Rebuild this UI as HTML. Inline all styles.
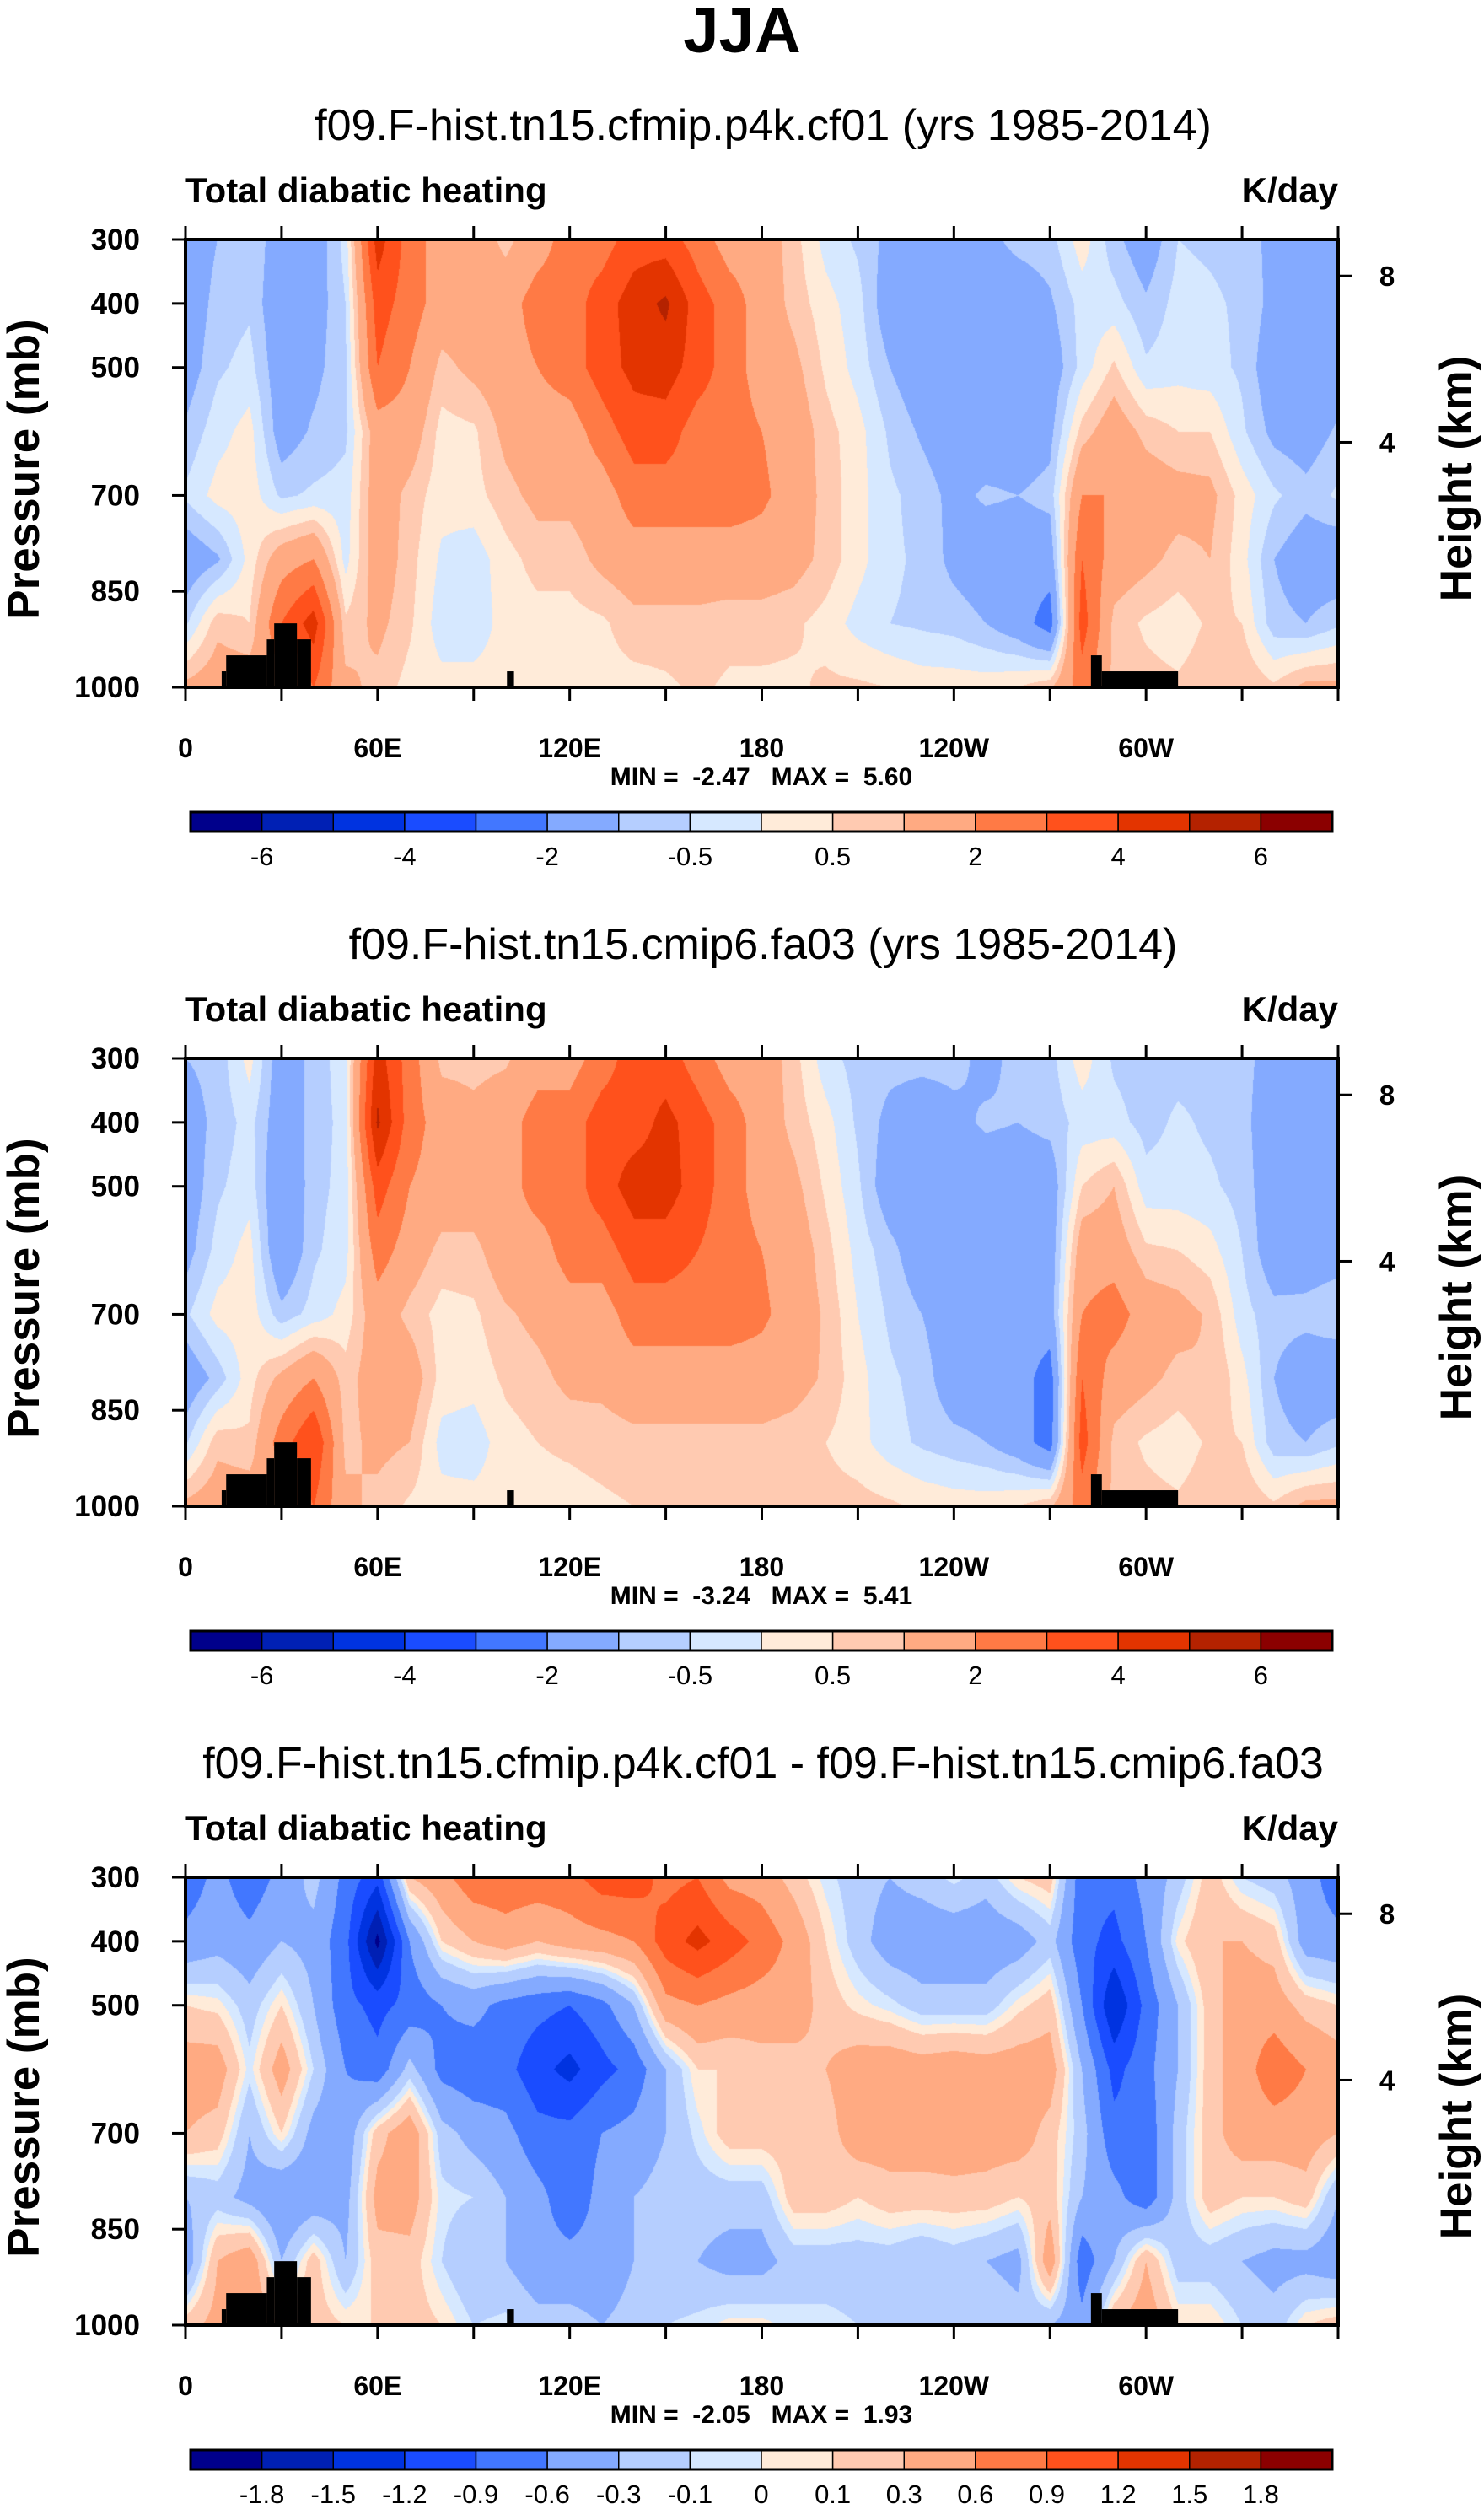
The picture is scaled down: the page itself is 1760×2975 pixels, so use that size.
<!DOCTYPE html>
<html><head><meta charset="utf-8">
<style>
html,body{margin:0;padding:0;background:#fff;}
#wrap{position:relative;width:1760px;height:2975px;overflow:hidden;font-family:"Liberation Sans",sans-serif;}
canvas{position:absolute;}
svg{position:absolute;left:0;top:0;}
text{white-space:pre;}
</style></head>
<body>
<div id="wrap">
<canvas id="c1" width="1367" height="531" style="left:220px;top:284px"></canvas>
<canvas id="c2" width="1367" height="531" style="left:220px;top:1255px"></canvas>
<canvas id="c3" width="1367" height="531" style="left:220px;top:2226px"></canvas>
<svg id="ov" width="1760" height="2975"></svg>
</div>
<script>
// ---- data ----
const lonGrid = [0,10,20,30,40,50,60,70,80,90,100,110,120,130,140,150,160,170,180,190,200,210,220,230,240,250,260,270,280,290,300,310,320,330,340,350,360];
const presLevels = [300,400,500,600,700,800,900,1000];
const heat1 = [
[-1.5,-1.5,-1.4,-0.9,-0.4,-1.6,-0.6,1.2],[-1.0,-0.8,-0.6,-0.2,0.2,-1.1,0.8,1.5],[-0.5,-0.6,-0.3,0.2,0.3,0.2,0.5,1.5],
[-1.5,-1.6,-1.5,-1.4,-0.6,1.5,3,1.5],[-1.5,-1.4,-1.2,-0.9,-0.4,2,4.5,3],[-0.3,-0.5,-0.6,-0.6,-0.3,-0.2,0.6,1.2],
[4.5,3.5,3,1.5,1.5,1.5,1.2,0.8],[2.5,2.5,2,1.5,0.8,0.7,0.6,0.3],[1.5,1.5,0.8,0.3,0.2,-0.1,-0.3,0.2],
[1.5,1.5,1.2,0.4,0.3,-0.3,-0.3,0.2],[0.8,1.5,1.5,1.2,0.8,0.3,0.2,0.2],[1.5,2.5,2,1.5,1.2,0.7,0.3,0.3],
[2.5,2.5,2.5,1.5,1.2,0.7,0.3,0.3],[2.5,3.5,3.5,2.5,1.5,1.2,0.4,0.3],[3.5,4.5,4.3,3.5,2.5,1.5,0.8,0.3],
[3.5,5.2,4.5,3.5,2.5,1.5,0.8,0.4],[2.5,3.5,3.5,2.5,2.5,1.5,0.8,0.6],[1.5,2.5,2.5,2.5,2.5,1.5,0.7,0.4],
[1.5,1.5,1.5,2,2.2,1.5,0.7,0.4],[0.7,0.8,1.2,1.5,1.5,1.3,0.6,0.4],[-0.2,0.2,0.4,0.7,0.8,0.8,0.3,0.6],
[-0.6,-0.3,-0.2,0.2,0.2,0.2,-0.2,0.6],[-1.2,-1.5,-1.0,-0.6,-0.4,-0.4,-0.5,0.5],[-1.5,-1.5,-1.5,-1.1,-0.7,-0.6,-0.6,0.3],
[-1.5,-1.5,-1.5,-1.5,-1.2,-1.2,-0.7,0.3],[-1.2,-1.5,-1.5,-1.5,-0.9,-1.5,-1.0,0.3],[-0.8,-1.5,-1.5,-1.5,-1.0,-1.5,-1.5,0.5],
[-0.7,-1.1,-1.5,-1.2,-0.8,-1.5,-2.5,0.9],[0.3,-0.3,-0.3,0.7,2,3,3.5,2.5],[-0.8,-0.3,0.6,1.5,2,1.5,0.8,0.8],
[-1.5,-0.9,-0.4,0.8,1.5,1.2,0.4,0.7],[-0.5,-0.3,-0.2,0.5,1.3,0.8,0.2,0.6],[-0.6,-0.4,-0.3,0.5,1.2,1.0,0.6,0.8],
[-0.7,-0.6,-0.6,-0.4,0.3,0.2,0.5,1.0],[-1.2,-1.2,-1.5,-1.2,-0.4,-1.0,-0.8,0.6],[-1.5,-1.5,-1.5,-1.4,-0.8,-1.5,-1.0,1.2],
[-1.5,-1.5,-1.4,-0.9,-0.4,-1.6,-0.6,1.2]];
const heat2 = [
[-1.0,-1.4,-1.5,-1.3,-0.6,-1.6,-0.6,1.2],[-0.8,-0.8,-0.6,-0.3,0.2,-0.8,0.8,1.5],[0.2,-0.3,-0.2,0.2,0.3,0.3,0.6,1.5],
[-1.5,-1.5,-1.8,-1.8,-0.8,1.2,2.5,1.5],[-0.8,-0.8,-0.7,-0.6,-0.3,2,4,3],[-0.2,-0.3,-0.3,-0.2,0.2,0.7,0.8,1.2],
[4.5,5.2,3.5,2.5,1.5,1.5,1.2,0.8],[2.5,2.5,2,1.5,0.8,1.5,1.0,0.4],[0.8,1.5,1.5,0.8,0.3,0.3,-0.2,0.2],
[0.8,1.2,1.5,0.8,0.4,0.2,-0.3,0.2],[0.9,1.5,1.5,1.5,0.9,0.6,0.3,0.2],[1.5,2.5,2.5,1.5,1.2,0.8,0.5,0.3],
[1.5,2.5,2.5,2.5,1.5,1.2,0.6,0.3],[2.5,3.5,3.5,2.5,1.5,1.2,0.7,0.4],[3.5,3.5,4.5,3.5,2.5,1.5,0.8,0.5],
[3.5,4.3,4.5,3.5,2.5,1.5,0.8,0.5],[2.5,3.5,3.5,3.0,2.5,1.5,0.8,0.6],[1.5,2.5,2.5,2.5,2.5,1.5,0.8,0.6],
[1.5,1.5,1.5,2,2.2,1.5,0.8,0.6],[0.7,0.8,1.2,1.5,1.5,1.3,0.7,0.6],[-0.3,0.2,0.4,0.7,0.9,0.9,0.5,0.7],
[-0.7,-0.6,-0.4,-0.2,0,0.2,0.2,0.7],[-0.8,-1.2,-1.5,-0.8,-0.6,-0.4,-0.3,0.6],[-0.8,-1.5,-1.5,-1.5,-1.0,-0.7,-0.6,0.4],
[-0.8,-1.2,-1.5,-1.5,-1.5,-1.5,-0.8,0.3],[-1.2,-0.9,-1.5,-1.5,-1.5,-1.5,-1.0,0.3],[-0.8,-1.0,-1.5,-1.5,-1.5,-1.5,-1.5,0.5],
[-0.7,-0.8,-1.5,-1.5,-1.4,-2.5,-2.5,0.9],[0.3,-0.3,0.5,1.5,2,3,3.5,2.5],[-0.6,-0.3,1.0,1.5,2.5,1.5,0.8,0.8],
[-0.8,-0.7,-0.3,0.6,1.5,1.2,0.4,0.7],[-0.7,-0.4,-0.3,0.5,1.3,0.8,0.2,0.6],[-0.7,-0.6,-0.4,0.2,0.9,1.0,0.6,0.8],
[-0.8,-0.8,-0.7,-0.5,-0.3,0.2,0.5,1.0],[-1.3,-1.5,-1.5,-1.5,-0.8,-1.0,-0.8,0.6],[-1.5,-1.5,-1.5,-1.4,-0.8,-1.5,-1.0,1.2],
[-1.0,-1.4,-1.5,-1.3,-0.6,-1.6,-0.6,1.2]];
const heatDiff = [
[-0.8,-0.5,0.1,0.45,0.3,-0.3,-0.5,0.2],[-0.5,-0.4,0.05,0.45,0.2,-0.2,0.3,0.4],[-0.8,-0.5,-0.2,-0.05,-0.3,-0.4,0.5,0.5],
[-0.5,-0.3,0.1,0.45,0.1,-0.6,-0.3,0.3],[-0.2,-0.4,-0.3,-0.1,-0.4,-0.5,0.2,0.2],[-0.7,-0.8,-0.8,-0.6,-0.5,-0.4,-0.3,0.1],
[-1.1,-1.9,-1.0,-0.8,0.2,0.4,0.2,0.1],[0.3,-0.6,-0.8,-0.2,0.5,0.45,0.2,0.2],[0.5,0.1,-0.6,-0.7,-0.2,-0.05,-0.1,0.1],
[0.8,0.3,-0.5,-0.8,-0.4,-0.1,-0.3,-0.1],[0.8,0.45,-0.7,-0.8,-0.5,-0.3,-0.3,-0.05],[0.8,0.3,-0.8,-1.1,-0.8,-0.5,-0.5,-0.2],
[0.8,0.45,-0.9,-1.3,-0.8,-0.8,-0.5,-0.2],[1.05,0.5,-0.7,-1.0,-0.6,-0.5,-0.5,-0.3],[1.05,0.6,-0.3,-0.8,-0.5,-0.3,-0.3,-0.2],
[0.8,1.05,0.5,-0.3,-0.3,-0.2,-0.3,-0.1],[0.9,1.3,0.6,0.1,-0.05,-0.2,-0.3,-0.05],[0.5,1.05,0.5,0.1,0.2,-0.2,-0.4,0.05],
[0.45,0.8,0.45,0.2,0.2,-0.2,-0.4,0.05],[0.2,0.5,0.45,0.2,0.2,0.2,-0.2,-0.05],[-0.05,0.1,0.2,0.3,0.2,0.2,-0.2,-0.05],
[-0.2,-0.2,0.05,0.45,0.45,0.1,-0.2,-0.1],[-0.3,-0.45,-0.05,0.5,0.45,0.2,-0.2,-0.1],[-0.2,-0.5,-0.2,0.45,0.45,0.2,-0.3,-0.1],
[-0.05,-0.5,-0.2,0.5,0.5,0.2,-0.2,-0.1],[-0.2,-0.5,-0.2,0.45,0.45,0.2,-0.3,-0.1],[0.1,-0.45,0.05,0.45,0.45,0.1,-0.4,-0.2],
[0.2,-0.2,0.2,0.45,0.2,0.2,0.5,-0.3],[-0.8,-0.8,-0.6,-0.3,-0.2,-0.3,-0.8,-0.5],[-0.8,-1.0,-1.5,-1.0,-0.8,-0.5,-0.3,0.3],
[-0.5,-0.6,-0.8,-0.7,-0.8,-0.8,0.3,0.5],[-0.2,0.05,-0.3,-0.3,-0.2,-0.2,-0.2,0.1],[0.2,0.3,0.2,0.2,0.2,0.2,-0.2,0.1],
[-0.1,0.3,0.45,0.45,0.45,0.1,-0.3,-0.1],[-0.2,0.2,0.45,0.8,0.45,0.1,-0.4,-0.2],[-0.45,-0.45,0.2,0.6,0.45,0.2,-0.4,0.1],
[-0.8,-0.5,0.1,0.45,0.3,-0.3,-0.5,0.2]];
const levelsAbs = [-6,-5,-4,-3,-2,-1,-0.5,0,0.5,1,2,3,4,5,6];
const levelsDiff = [-1.8,-1.5,-1.2,-0.9,-0.6,-0.3,-0.1,0,0.1,0.3,0.6,0.9,1.2,1.5,1.8];
const labelsAbs = ["-6","","-4","","-2","","-0.5","","0.5","","2","","4","","6"];
const labelsDiff = ["-1.8","-1.5","-1.2","-0.9","-0.6","-0.3","-0.1","0","0.1","0.3","0.6","0.9","1.2","1.5","1.8"];
const palette = ["#00008B","#0020B4","#0033E0","#1A4CFF","#4277FF","#84AAFF","#B5CEFF","#D6E8FF","#FFEBD9","#FFCAB1","#FFAA82","#FF7A45","#FF511C","#E33400","#B42200","#8B0000"];
const terrain = [[11.3,12.7,975],[12.7,25.4,950],[25.4,27.7,925],[27.7,34.8,900],[34.8,39.2,925],[100.4,102.6,975],[282.8,286.2,950],[286.2,310,975]];
const yTicks = [300,400,500,700,850,1000];
const xTicks = [0,60,120,180,240,300];
const xTickLabels = ["0","60E","120E","180","120W","60W"];
const hTicks = [8,4];
const hTickP = [357,617];
const subtitles = ["f09.F-hist.tn15.cfmip.p4k.cf01 (yrs 1985-2014)","f09.F-hist.tn15.cmip6.fa03 (yrs 1985-2014)","f09.F-hist.tn15.cfmip.p4k.cf01 - f09.F-hist.tn15.cmip6.fa03"];
const minMax = ["MIN =  -2.47   MAX =  5.60","MIN =  -3.24   MAX =  5.41","MIN =  -2.05   MAX =  1.93"];

// ---- layout ----
const X0=220, W=1367, H=531, PY=[284,1255,2226];
const xs = lon => X0 + lon/360*W;
const ys = (p,k) => PY[k] + (p-300)/700*H;
function hex(c){return [parseInt(c.substr(1,2),16),parseInt(c.substr(3,2),16),parseInt(c.substr(5,2),16)];}
const rgb = palette.map(hex);
function binOf(v,lev){let b=0;for(const l of lev){if(v>=l)b++;}return b;}
function field(grid,lon,p){
  let fi=lon/10; let i=Math.min(Math.floor(fi),35); let fx=fi-i;
  let fj=(p-300)/100; let j=Math.min(Math.floor(fj),6); let fy=fj-j;
  const a=grid[i][j],b=grid[i+1][j],c=grid[i][j+1],d=grid[i+1][j+1];
  return a*(1-fx)*(1-fy)+b*fx*(1-fy)+c*(1-fx)*fy+d*fx*fy;
}
function drawField(id,grid,lev){
  const cv=document.getElementById(id),ctx=cv.getContext('2d');
  const img=ctx.createImageData(W,H);
  for(let y=0;y<H;y++){const p=300+(y+0.5)/H*700;
    for(let x=0;x<W;x++){const lon=(x+0.5)/W*360;
      const col=rgb[binOf(field(grid,lon,p),lev)];const o=(y*W+x)*4;
      img.data[o]=col[0];img.data[o+1]=col[1];img.data[o+2]=col[2];img.data[o+3]=255;}}
  ctx.putImageData(img,0,0);
}
drawField('c1',heat1,levelsAbs);
drawField('c2',heat2,levelsAbs);
drawField('c3',heatDiff,levelsDiff);

const NS="http://www.w3.org/2000/svg";
const svg=document.getElementById('ov');
function el(tag,attrs,parent){const e=document.createElementNS(NS,tag);for(const k in attrs)e.setAttribute(k,attrs[k]);(parent||svg).appendChild(e);return e;}
function txt(s,attrs,parent){const e=el('text',attrs,parent);e.textContent=s;return e;}

const t=txt("JJA",{x:880,y:62,'text-anchor':'middle','font-size':76,'font-weight':'bold'});



for(let k=0;k<3;k++){
  const g=el('g',{});
  
  
  const top=PY[k], bot=PY[k]+H, off=k*971;
  let e=txt(subtitles[k],{x:905,y:166+off,'text-anchor':'middle','font-size':52},g);
  
  
  e=txt("Total diabatic heating",{x:220,y:240+off,'font-size':42,'font-weight':'bold'},g);
  
  
  e=txt("K/day",{x:1587,y:240+off,'text-anchor':'end','font-size':42,'font-weight':'bold'},g);
  
  
  terrain.forEach(tr=>{
    const r=el('rect',{x:xs(tr[0]),y:ys(tr[2],k),width:xs(tr[1])-xs(tr[0]),height:bot-ys(tr[2],k),fill:'#000'},g);
    
    
  });
  e=el('rect',{x:X0,y:top,width:W,height:H,fill:'none',stroke:'#000','stroke-width':4},g);
  
  
  for(let lon=0;lon<=360;lon+=30){
    el('line',{x1:xs(lon),x2:xs(lon),y1:top,y2:top-16,stroke:'#000','stroke-width':3},g);
    el('line',{x1:xs(lon),x2:xs(lon),y1:bot,y2:bot+16,stroke:'#000','stroke-width':3},g);
  }
  xTicks.forEach((lon,i)=>{
    const l=txt(xTickLabels[i],{x:xs(lon),y:bot+83,'text-anchor':'middle','font-size':32,'font-weight':'bold'},g);
    
    
  });
  yTicks.forEach(p=>{
    el('line',{x1:X0,x2:X0-16,y1:ys(p,k),y2:ys(p,k),stroke:'#000','stroke-width':3},g);
    const l=txt(String(p),{x:166,y:ys(p,k)+12,'text-anchor':'end','font-size':35,'font-weight':'bold'},g);
    
    
  });
  hTicks.forEach((h,i)=>{
    const y=ys(hTickP[i],k);
    el('line',{x1:X0+W,x2:X0+W+16,y1:y,y2:y,stroke:'#000','stroke-width':3},g);
    const l=txt(String(h),{x:1645,y:y+12,'text-anchor':'middle','font-size':33,'font-weight':'bold'},g);
    
    
  });
  e=txt("Pressure (mb)",{x:0,y:0,'text-anchor':'middle','font-size':53,'font-weight':'bold',transform:`translate(46,${top+H/2+7}) rotate(-90)`},g);
  
  
  e=txt("Height (km)",{x:0,y:0,'text-anchor':'middle','font-size':53,'font-weight':'bold',transform:`translate(1745,${top+H/2+18}) rotate(-90)`},g);
  
  
  e=txt(minMax[k],{x:903,y:bot+116,'text-anchor':'middle','font-size':30,'font-weight':'bold'},g);
  
  
  const cb=el('g',{},g);
  
  
  const cx0=226,cw=1354,cy=963+off,ch=23,bw=cw/16;
  const labs=k<2?labelsAbs:labelsDiff;
  palette.forEach((c,i)=>{
    const r=el('rect',{x:cx0+i*bw,y:cy,width:bw,height:ch,fill:c,stroke:'#000','stroke-width':1.5},cb);
    
    
  });
  el('rect',{x:cx0,y:cy,width:cw,height:ch,fill:'none',stroke:'#000','stroke-width':3},cb);
  labs.forEach((s,i)=>{
    if(!s)return;
    const l=txt(s,{x:cx0+(i+1)*bw,y:cy+63,'text-anchor':'middle','font-size':31},cb);
    
    
  });
}
svg.querySelectorAll('text').forEach(n=>{n.setAttribute('font-family','Liberation Sans, sans-serif');});
</script>
</body></html>
